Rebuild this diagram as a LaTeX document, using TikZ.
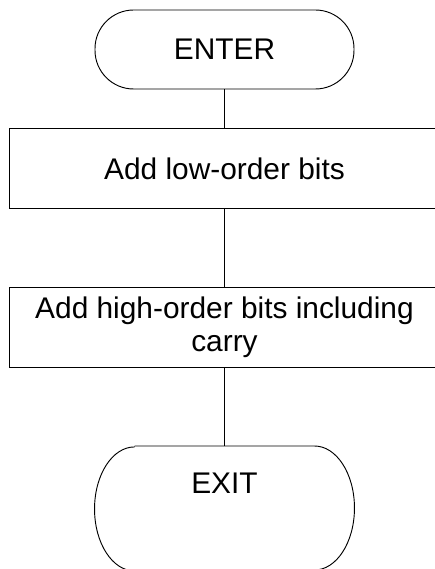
\documentclass[tikz,border=0pt]{standalone}
\usepackage{fontspec}
\setmainfont{Liberation Sans}
\begin{document}
\begin{tikzpicture}[x=0.75pt,y=0.75pt,line width=0.7pt,
  every node/.style={font=\fontsize{22.4pt}{24.75pt}\selectfont,inner sep=0pt},
  term/.style={draw,rounded corners=29pt,minimum width=194.25pt,minimum height=59.25pt},
  proc/.style={draw,minimum width=323.25pt,minimum height=59.5pt,align=center}]
  \useasboundingbox (0,0) rectangle (435,569);
  \node [term] (enter) at (224.5,519.5) {ENTER};
  \node [proc] (low) at (224.5,400.5) {Add low-order bits};
  \node [proc,minimum height=60pt] (high) at (224.5,242) {Add high-order bits including\\carry};
  % exit box runs off the bottom edge
  \node [anchor=north,minimum width=194.25pt,minimum height=93pt,text height=15pt,text depth=37.5pt] (exit) at (224.5,123) {EXIT};
  \draw ([xshift=30pt]exit.north west)--([xshift=-30pt]exit.north east)
    arc [start angle=90,end angle=-90,x radius=30pt,y radius=46.5pt]
    --([xshift=30pt]exit.south west)
    arc [start angle=270,end angle=90,x radius=30pt,y radius=46.5pt];
  \draw (enter)--(low);
  \draw (low)--(high);
  \draw (high)--(exit);
\end{tikzpicture}
\end{document}
